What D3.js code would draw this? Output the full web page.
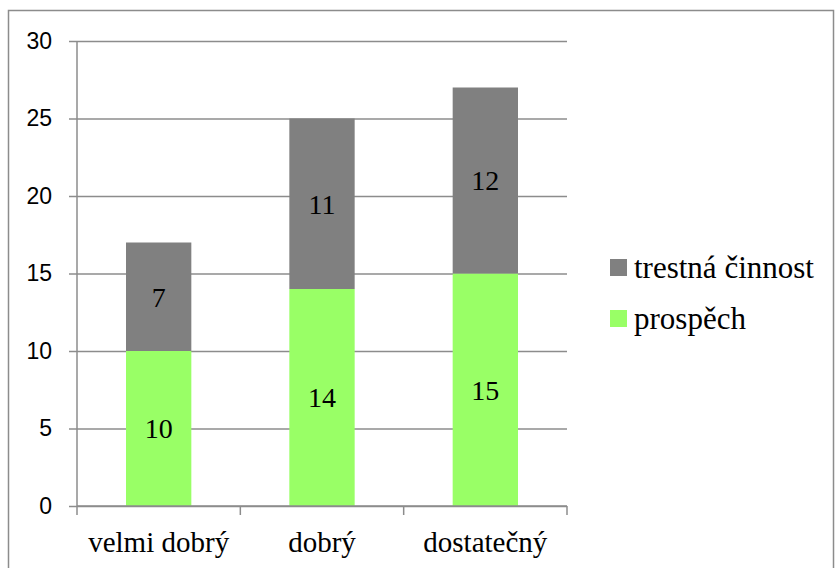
<!DOCTYPE html>
<html>
<head>
<meta charset="utf-8">
<script src="https://cdn.jsdelivr.net/npm/d3@7"></script>
<style>
  body { margin: 0; background: #fff; }
  .serif { font-family: 'Liberation Serif', 'Times New Roman', Tinos, 'DejaVu Serif', serif; }
  .sans { font-family: 'Liberation Sans', Arial, sans-serif; }
</style>
</head>
<body>
<svg class="chart"></svg>
<script>
// chart data
const categories = ['velmi dobrý', 'dobrý', 'dostatečný']
const prospech = [10, 14, 15]
const trestna = [7, 11, 12]
const yTicks = [0, 5, 10, 15, 20, 25, 30]
const seriesNames = ['prospěch', 'trestná činnost']
const seriesColors = ['#99ff66', '#808080']

const width = 835
const height = 568
const plotLeft = 77, plotRight = 567, plotTop = 41, plotBottom = 506

const svg = d3.select('.chart')
  .attr('width', width)
  .attr('height', height)

// outer frame
svg.append('rect')
  .attr('x', 8.5).attr('y', 10.5)
  .attr('width', 825).attr('height', 570)
  .style('fill', 'none')
  .style('stroke', '#8c8c8c')
  .style('stroke-width', 1.5)

const x = d3.scaleBand()
  .domain(categories)
  .range([plotLeft, plotRight])
  .paddingInner(0.6)
  .paddingOuter(0.3)

const y = d3.scaleLinear()
  .domain([0, 30])
  .range([plotBottom, plotTop])

// gridlines + y ticks
const gridW = plotRight - plotLeft + 8
const yAxis = d3.axisLeft(y)
  .tickValues(yTicks)
  .tickSize(gridW)
  .tickPadding(17)

const gy = svg.append('g')
  .attr('transform', 'translate(' + plotRight + ',0)')
  .call(yAxis)
  .attr('font-family', null)
  .attr('font-size', null)
gy.select('.domain').remove()
gy.selectAll('line')
  .style('stroke', '#8c8c8c')
  .style('stroke-width', 1.5)
gy.selectAll('text')
  .classed('sans', true)
  .style('font-size', '23px')
  .style('fill', '#000')

// y axis line
svg.append('line')
  .attr('x1', plotLeft).attr('x2', plotLeft)
  .attr('y1', plotTop).attr('y2', plotBottom)
  .style('stroke', '#8c8c8c')
  .style('stroke-width', 1.5)

// stacked bars
const rows = categories.map((c, i) => ({ cat: c, 'prospěch': prospech[i], 'trestná činnost': trestna[i] }))
const stack = d3.stack().keys(seriesNames)(rows)

stack.forEach((layer, li) => {
  const g = svg.append('g')
  g.selectAll('rect')
    .data(layer)
    .enter()
    .append('rect')
    .attr('x', (d) => x(d.data.cat))
    .attr('width', x.bandwidth())
    .attr('y', (d) => y(d[1]))
    .attr('height', (d) => y(d[0]) - y(d[1]))
    .style('fill', seriesColors[li])

  g.selectAll('text')
    .data(layer)
    .enter()
    .append('text')
    .classed('serif', true)
    .attr('x', (d) => x(d.data.cat) + x.bandwidth() / 2)
    .attr('y', (d) => (y(d[0]) + y(d[1])) / 2)
    .attr('dy', '0.35em')
    .style('text-anchor', 'middle')
    .style('font-size', '28px')
    .text((d) => d[1] - d[0])
})

// x axis
svg.append('line')
  .attr('x1', plotLeft).attr('x2', plotRight)
  .attr('y1', plotBottom).attr('y2', plotBottom)
  .style('stroke', '#8c8c8c')
  .style('stroke-width', 1.5)

const boundaries = [plotLeft].concat(categories.map((c) => x(c) + x.bandwidth() / 2 + x.step() / 2))
svg.selectAll('.xtick')
  .data(boundaries)
  .enter()
  .append('line')
  .attr('x1', (d) => d).attr('x2', (d) => d)
  .attr('y1', plotBottom).attr('y2', plotBottom + 9)
  .style('stroke', '#8c8c8c')
  .style('stroke-width', 1.5)

svg.selectAll('.xlabel')
  .data(categories)
  .enter()
  .append('text')
  .classed('serif', true)
  .attr('x', (d) => x(d) + x.bandwidth() / 2)
  .attr('y', 552)
  .style('text-anchor', 'middle')
  .style('font-size', '29px')
  .text((d) => d)

// legend (reverse order, like the stack)
const legendItems = [1, 0]
const legend = svg.selectAll('.legend')
  .data(legendItems)
  .enter()
  .append('g')
  .attr('transform', (d, i) => 'translate(610,' + (259 + i * 51) + ')')

legend.append('rect')
  .attr('width', 17).attr('height', 17)
  .style('fill', (d) => seriesColors[d])

legend.append('text')
  .classed('serif', true)
  .attr('x', 24)
  .attr('y', 19)
  .style('font-size', '31px')
  .text((d) => seriesNames[d])
</script>
</body>
</html>
